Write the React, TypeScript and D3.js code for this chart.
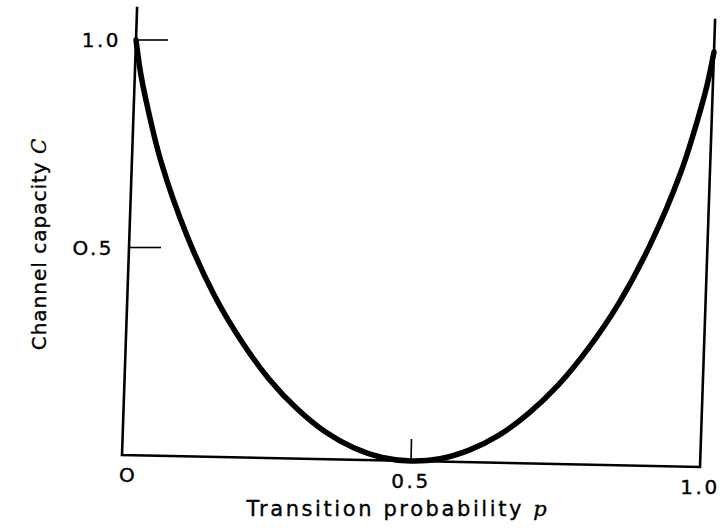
import React from 'react';
import * as d3 from 'd3';

// Transition probability p and channel capacity C
const pValues = [0, 0.01, 0.02, 0.05, 0.1, 0.15, 0.2, 0.25, 0.3, 0.35, 0.4, 0.45, 0.5,
  0.55, 0.6, 0.65, 0.7, 0.75, 0.8, 0.85, 0.9, 0.95, 0.98, 0.99, 1];
const cValues = [1, 0.92, 0.86, 0.71, 0.53, 0.39, 0.28, 0.19, 0.12, 0.066, 0.029, 0.007, 0,
  0.007, 0.029, 0.066, 0.12, 0.19, 0.28, 0.39, 0.53, 0.71, 0.86, 0.92, 1];

const xTicks = [0, 0.5, 1.0];
const xTickLabels = ['O', '0.5', '1.0'];
const yTicks = [0.5, 1.0];
const yTickLabels = ['O.5', '1.0'];

const W = 728;
const H = 532;

export default function App() {
  // the scan is slightly skewed, so each axis gets its own direction vector
  const x = d3.scaleLinear().domain([0, 1]).range([0, 578]);
  const y = d3.scaleLinear().domain([0, 1]).range([0, 415]);
  const origin = [122, 455];
  const skewX = 12 / 578; // bottom axis drops this much per px
  const skewY = 14 / 415; // left axis leans right this much per px

  const proj = (p: number, c: number): [number, number] => [
    origin[0] + x(p) + y(c) * skewY,
    origin[1] + x(p) * skewX - y(c),
  ];

  const line = d3.line<number>()
    .x((_, i) => proj(pValues[i], cValues[i])[0])
    .y((_, i) => proj(pValues[i], cValues[i])[1])
    .curve(d3.curveCatmullRom.alpha(0.5));

  const top = 1.08;
  const frame = [proj(0, top), proj(0, 0), proj(1, 0), proj(1, top)];
  const framePath = d3.line()(frame);

  const font = "'DejaVu Sans', 'Liberation Sans', sans-serif";
  // scanned print looks a touch heavier than a plain font
  const ink = { stroke: '#000', strokeWidth: 0.35 };

  return (
    <svg width={W} height={H} style={{ position: 'absolute', left: 0, top: 0, background: '#fff' }}>
      <path d={framePath || ''} fill="none" stroke="#000" strokeWidth={2.6} strokeLinejoin="miter" />

      {yTicks.map((t, i) => {
        const [a, b] = proj(0, t);
        return (
          <g key={'y' + t}>
            <line x1={a} y1={b} x2={a + 32} y2={b} stroke="#000" strokeWidth={1.6} />
            <text x={a - 15} y={b + 7} textAnchor="end" fontFamily={font} fontSize={20} letterSpacing={2.5} {...ink}>
              {yTickLabels[i]}
            </text>
          </g>
        );
      })}

      {(() => {
        const [a, b] = proj(0.5, 0);
        return <line x1={a} y1={b} x2={a + 0.5} y2={b - 22} stroke="#000" strokeWidth={1.6} />;
      })()}

      {xTicks.map((t, i) => {
        const [a, b] = proj(t, 0);
        return (
          <text key={'x' + t} x={a + (t === 0 ? 6 : 0)} y={b + 27}
            textAnchor="middle" fontFamily={font} fontSize={20} letterSpacing={2.5} {...ink}>
            {xTickLabels[i]}
          </text>
        );
      })}

      <path d={line(pValues) || ''} fill="none" stroke="#000" strokeWidth={5.5} strokeLinecap="round" />

      <text x={398} y={516} textAnchor="middle" fontFamily={font} fontSize={21} letterSpacing={2.6} {...ink}>
        Transition probability <tspan fontFamily="'DejaVu Serif', serif" fontStyle="italic">p</tspan>
      </text>

      <text transform="translate(46,244) rotate(-90)" textAnchor="middle" fontFamily={font} fontSize={20} letterSpacing={1} {...ink}>
        Channel capacity <tspan fontFamily="'DejaVu Serif', serif" fontStyle="italic">C</tspan>
      </text>
    </svg>
  );
}
